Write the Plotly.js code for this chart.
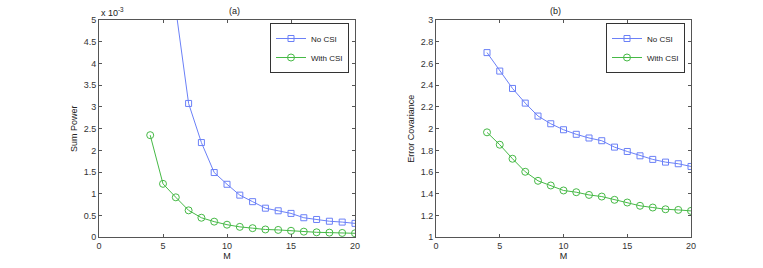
<!DOCTYPE html>
<html>
<head>
<meta charset="utf-8">
<script src="https://cdn.plot.ly/plotly-3.0.1.min.js"></script>
<style>html,body{margin:0;padding:0;background:#fff;}#chart{width:763px;height:268px;}</style>
</head>
<body>
<div id="chart"></div>
<script>
// Number of antennas M
const M = [4,5,6,7,8,9,10,11,12,13,14,15,16,17,18,19,20];
// (a) Sum power, in units of 1e-3
const sumPowerNoCSI   = [15.0,8.2,5.25,3.08,2.18,1.49,1.22,0.97,0.82,0.67,0.61,0.55,0.45,0.41,0.37,0.35,0.32];
const sumPowerWithCSI = [2.35,1.23,0.92,0.62,0.45,0.36,0.29,0.24,0.21,0.18,0.17,0.15,0.13,0.115,0.108,0.10,0.092];
// (b) Error covariance
const errCovNoCSI   = [2.70,2.53,2.37,2.235,2.116,2.045,1.99,1.948,1.914,1.889,1.83,1.79,1.75,1.717,1.692,1.677,1.652];
const errCovWithCSI = [1.966,1.852,1.723,1.603,1.52,1.477,1.431,1.415,1.39,1.375,1.345,1.32,1.29,1.274,1.258,1.252,1.243];
const seriesNames = ['No CSI','With CSI'];
const panelTitles = ['(a)','(b)'];
const axisTitles = {x:'M', yA:'Sum Power', yB:'Error Covariance'};

const BLUE = '#6b80f7', GREEN = '#46b946';
const FONT = 'Liberation Sans, Arial, Helvetica, sans-serif';

function tr(y, name, color, sym, xa, ya, leg, msize) {
  return {x: M, y: y, name: name, type: 'scatter', mode: 'lines+markers',
    xaxis: xa, yaxis: ya, legend: leg,
    line: {color: color, width: 1},
    marker: {symbol: sym, size: msize, color: color, line: {color: color, width: 1}}};
}
const data = [
  tr(sumPowerNoCSI, seriesNames[0], BLUE, 'square-open', 'x', 'y', 'legend', 6),
  tr(sumPowerWithCSI, seriesNames[1], GREEN, 'circle-open', 'x', 'y', 'legend', 7),
  tr(errCovNoCSI, seriesNames[0], BLUE, 'square-open', 'x2', 'y2', 'legend2', 6),
  tr(errCovWithCSI, seriesNames[1], GREEN, 'circle-open', 'x2', 'y2', 'legend2', 7)
];

function ax(extra) {
  return Object.assign({
    showline: true, mirror: 'ticks', linecolor: '#555', linewidth: 1,
    ticks: 'inside', ticklen: 3, tickcolor: '#555', showgrid: false, zeroline: false,
    tickfont: {family: FONT, size: 9, color: '#333'}
  }, extra);
}
const tfont = {family: FONT, size: 9, color: '#222'};
const yTop = 1 - 20/268, yBot = 1 - 237.3/268;
const legendBase = {xanchor: 'right', y: 1 - 23/268, yanchor: 'top',
    bgcolor: '#fff', bordercolor: '#333', borderwidth: 1, font: {family: FONT, size: 8, color: '#222'},
    tracegroupgap: 0, itemwidth: 30};
const layout = {
  width: 763, height: 268, margin: {l: 0, r: 0, t: 0, b: 0},
  paper_bgcolor: '#fff', plot_bgcolor: '#fff', showlegend: true,
  font: tfont,
  xaxis: ax({domain: [99/763, 355/763], range: [0, 20], tickvals: [0,5,10,15,20], anchor: 'y',
    title: {text: axisTitles.x, font: tfont, standoff: 0}}),
  yaxis: ax({domain: [yBot, yTop], range: [0, 5], dtick: 0.5, anchor: 'x',
    title: {text: axisTitles.yA, font: tfont, standoff: 4}}),
  xaxis2: ax({domain: [436/763, 691/763], range: [0, 20], tickvals: [0,5,10,15,20], anchor: 'y2',
    title: {text: axisTitles.x, font: tfont, standoff: 0}}),
  yaxis2: ax({domain: [yBot, yTop], range: [1, 3], dtick: 0.2, anchor: 'x2',
    title: {text: axisTitles.yB, font: tfont, standoff: 4}}),
  legend: Object.assign({x: 349/763}, legendBase),
  legend2: Object.assign({x: 685/763}, legendBase),
  annotations: [
    {text: panelTitles[0], xref: 'paper', yref: 'paper', x: 227/763, y: 1 - 11/268, yanchor: 'middle', showarrow: false, font: tfont},
    {text: panelTitles[1], xref: 'paper', yref: 'paper', x: 563/763, y: 1 - 11/268, yanchor: 'middle', showarrow: false, font: tfont},
    {text: 'x 10<sup>-3</sup>', xref: 'paper', yref: 'paper', x: 99/763, xanchor: 'left', y: 1 - 12/268, yanchor: 'middle', showarrow: false, font: tfont}
  ]
};
Plotly.newPlot('chart', data, layout, {displayModeBar: false, staticPlot: true});
</script>
</body>
</html>
